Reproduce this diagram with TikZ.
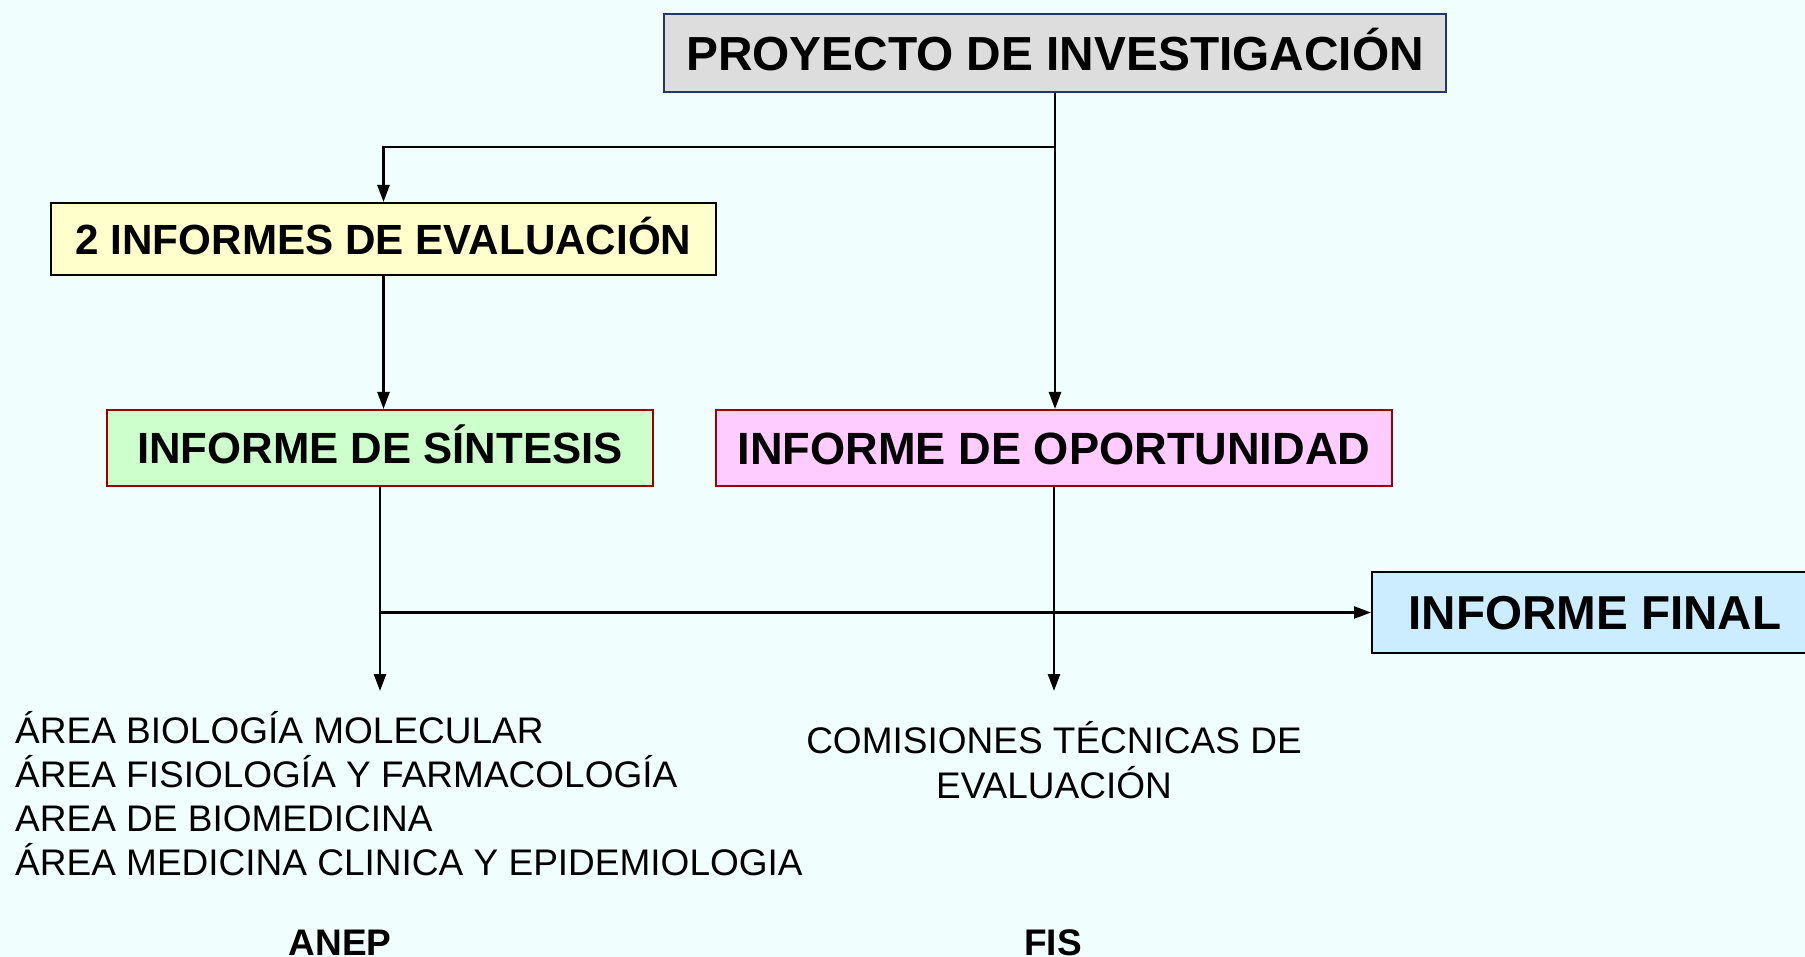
\documentclass[tikz,border=0pt]{standalone}
\usepackage{fontspec}
\setmainfont{Liberation Sans}
\usetikzlibrary{arrows.meta}
\definecolor{bg}{RGB}{241,254,254}
\definecolor{topgray}{RGB}{221,221,221}
\definecolor{navy}{RGB}{31,56,100}
\definecolor{yel}{RGB}{255,255,204}
\definecolor{grn}{RGB}{204,255,204}
\definecolor{pnk}{RGB}{255,204,255}
\definecolor{blu}{RGB}{204,236,255}
\definecolor{dred}{RGB}{153,0,0}
\tikzset{
  bx/.style={draw, line width=2pt, inner sep=0pt, text depth=0pt},
  arr/.style={line width=2.5pt, -{Triangle[length=17pt,width=12pt]}},
  body/.style={inner sep=0pt, font=\fontsize{37}{44}\selectfont},
  bodyb/.style={inner sep=0pt, font=\bfseries\fontsize{37}{44}\selectfont},
}
\begin{document}
\begin{tikzpicture}[x=1pt,y=-1pt]
\fill[bg] (0,0) rectangle (1805,957);
\useasboundingbox (0,0) rectangle (1805,957);

\node[bx, fill=topgray, draw=navy, minimum width=782pt, minimum height=78pt,
  font=\bfseries\fontsize{47.8}{50}\selectfont, text height=34.2pt] (proj) at (1055,53) {PROYECTO DE INVESTIGACIÓN};
\node[bx, fill=yel, draw=black, minimum width=665pt, minimum height=72pt,
  font=\bfseries\fontsize{42.2}{46}\selectfont, text height=30.2pt] (eval) at (383.5,239) {2 INFORMES DE EVALUACIÓN};
\node[bx, fill=grn, draw=dred, minimum width=546pt, minimum height=76pt,
  font=\bfseries\fontsize{43.7}{46}\selectfont, text height=31.3pt] (sint) at (380,448) {INFORME DE SÍNTESIS};
\node[bx, fill=pnk, draw=dred, minimum width=676pt, minimum height=76pt,
  font=\bfseries\fontsize{45.2}{48}\selectfont, text height=32.4pt] (opor) at (1054,448) {INFORME DE OPORTUNIDAD};
\node[bx, fill=blu, draw=black, minimum width=446pt, minimum height=81pt,
  font=\bfseries\fontsize{47.6}{50}\selectfont, text height=34.1pt] (final) at (1595,612.5) {INFORME FINAL};

\coordinate (br) at (1055,147);
\coordinate (anepend) at (380,691);
\coordinate (fisend) at (1054,691);
\coordinate (hj) at (380,612.5);

\draw[arr] (proj.south) -- (proj.south |- opor.north);
\draw[arr] (br) -| (eval.north);
\draw[arr] (eval.south) -- (eval.south |- sint.north);
\draw[arr] (sint.south) -- (anepend);
\draw[arr] (opor.south) -- (fisend);
\draw[arr] (hj) -- (final.west);

\node[body, anchor=base west] (l1) at (15,743) {ÁREA BIOLOGÍA MOLECULAR};
\node[body, anchor=base west] (l2) at (15,787) {ÁREA FISIOLOGÍA Y FARMACOLOGÍA};
\node[body, anchor=base west] (l3) at (15,831) {AREA DE BIOMEDICINA};
\node[body, anchor=base west] (l4) at (15,875) {ÁREA MEDICINA CLINICA Y EPIDEMIOLOGIA};

\node[body, anchor=base] (c1) at (1054,753) {COMISIONES TÉCNICAS DE};
\node[body, anchor=base] (c2) at (1054,798) {EVALUACIÓN};

\node[bodyb, anchor=base] (anep) at (340,955) {ANEP};
\node[bodyb, anchor=base] (fis) at (1053,955) {FIS};
\end{tikzpicture}
\end{document}
